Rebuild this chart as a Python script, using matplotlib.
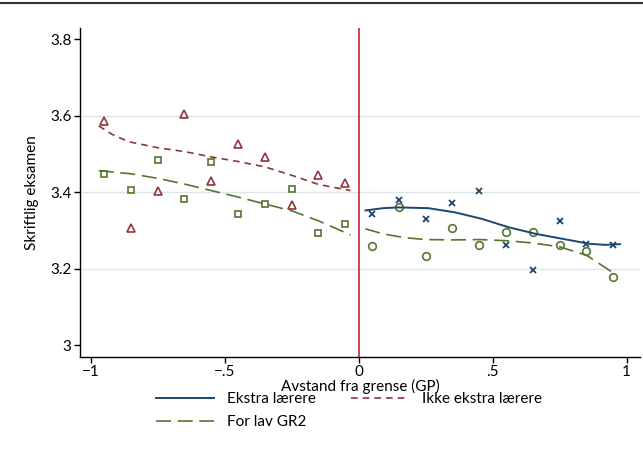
import matplotlib
matplotlib.use("Agg")
import matplotlib.pyplot as plt
from matplotlib.lines import Line2D

plt.rcParams["font.family"] = ["Lato", "DejaVu Sans"]

# binned means
x_left = [-0.95, -0.85, -0.75, -0.65, -0.55, -0.45, -0.35, -0.25, -0.15, -0.05]
x_right = [0.05, 0.15, 0.25, 0.35, 0.45, 0.55, 0.65, 0.75, 0.85, 0.95]
ikke_ekstra = [3.588, 3.307, 3.404, 3.604, 3.430, 3.528, 3.492, 3.368, 3.446, 3.424]
lav_gr2_left = [3.448, 3.406, 3.484, 3.383, 3.481, 3.344, 3.370, 3.408, 3.295, 3.317]
ekstra = [3.344, 3.381, 3.330, 3.373, 3.404, 3.263, 3.198, 3.325, 3.266, 3.262]
lav_gr2_right = [3.261, 3.363, 3.233, 3.306, 3.262, 3.297, 3.297, 3.264, 3.246, 3.179]

# smoothed fits
fit_ikke_x = [-0.97, -0.92, -0.86, -0.75, -0.65, -0.55, -0.45, -0.35, -0.25, -0.15, -0.03]
fit_ikke_y = [3.574, 3.552, 3.533, 3.517, 3.507, 3.493, 3.481, 3.467, 3.445, 3.421, 3.405]
fit_gr2l_x = [-0.97, -0.85, -0.75, -0.65, -0.55, -0.45, -0.35, -0.25, -0.15, -0.03]
fit_gr2l_y = [3.457, 3.449, 3.437, 3.422, 3.405, 3.388, 3.370, 3.352, 3.326, 3.289]
fit_ekstra_x = [0.025, 0.09, 0.15, 0.26, 0.36, 0.46, 0.56, 0.66, 0.76, 0.86, 0.92, 0.975]
fit_ekstra_y = [3.353, 3.359, 3.361, 3.359, 3.348, 3.331, 3.309, 3.292, 3.279, 3.266, 3.263, 3.265]
fit_gr2r_x = [0.025, 0.09, 0.17, 0.25, 0.35, 0.45, 0.55, 0.65, 0.75, 0.85, 0.95]
fit_gr2r_y = [3.305, 3.292, 3.282, 3.277, 3.276, 3.277, 3.274, 3.268, 3.258, 3.236, 3.190]

xticks = [-1, -0.5, 0, 0.5, 1]
xticklabels = ["\u22121", "\u2212.5", "0", ".5", "1"]
yticks = [3, 3.2, 3.4, 3.6, 3.8]
yticklabels = ["3", "3.2", "3.4", "3.6", "3.8"]

navy = "#1A476F"
cranberry = "#90353B"
green = "#55752F"

fig = plt.figure(figsize=(6.43, 4.63), dpi=100)
ax = fig.add_axes([0.1244, 0.229, 0.871, 0.7105])

for yv in [3.2, 3.4, 3.6]:
    ax.axhline(yv, color="#DCE8E8", lw=1.0, zorder=0)

ax.axvline(0, color="#C0283C", lw=1.2, zorder=1)

ax.plot(x_left, ikke_ekstra, ls="none", marker="^", ms=5.5, mfc="none",
        mec=cranberry, mew=1.2)
ax.plot(x_left, lav_gr2_left, ls="none", marker="s", ms=5, mfc="none",
        mec=green, mew=1.2)
ax.plot(x_right, ekstra, ls="none", marker="x", ms=4, color=navy, mew=1.3)
ax.plot(x_right, lav_gr2_right, ls="none", marker="o", ms=5.5, mfc="none",
        mec=green, mew=1.2)

ax.plot(fit_ekstra_x, fit_ekstra_y, color=navy, lw=1.4)
ax.plot(fit_ikke_x, fit_ikke_y, color=cranberry, lw=1.2, dashes=(4, 3))
ax.plot(fit_gr2l_x, fit_gr2l_y, color=green, lw=1.2, dashes=(9, 4))
ax.plot(fit_gr2r_x, fit_gr2r_y, color=green, lw=1.2, dashes=(9, 4))

ax.set_xlim(-1.04, 1.05)
ax.set_ylim(2.97, 3.83)
ax.set_xticks(xticks)
ax.set_xticklabels(xticklabels)
ax.set_yticks(yticks)
ax.set_yticklabels(yticklabels)
ax.tick_params(direction="out", length=4, width=1, labelsize=11, pad=2)
for s in ["top", "right"]:
    ax.spines[s].set_visible(False)
for s in ["left", "bottom"]:
    ax.spines[s].set_linewidth(1.0)
ax.set_xlabel("Avstand fra grense (GP)", fontsize=11, labelpad=0)
ax.set_ylabel("Skriftlig eksamen", fontsize=11, labelpad=8)

# column-major fill, so this gives Ekstra | Ikke on row 1, For lav on row 2
handles = [
    Line2D([], [], color=navy, lw=1.4),
    Line2D([], [], color=green, lw=1.2, dashes=(9, 4)),
    Line2D([], [], color=cranberry, lw=1.2, dashes=(4, 3)),
]
labels = ["Ekstra lærere", "For lav GR2", "Ikke ekstra lærere"]
fig.legend(handles, labels, ncol=2, frameon=False, fontsize=11,
           loc="upper left", bbox_to_anchor=(0.221, 0.183),
           handlelength=3.8, handletextpad=0.85, columnspacing=2.3,
           labelspacing=0.62)

fig.add_artist(Line2D([0, 1], [0.994, 0.994], color="#333333", lw=1.5,
                      transform=fig.transFigure))

fig.savefig("out.png", dpi=100, facecolor="white")
